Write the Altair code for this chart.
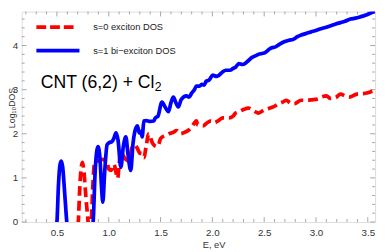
import altair as alt
import pandas as pd

# ---- data ----
E_exciton = [0.68, 0.706, 0.72, 0.735, 0.747, 0.76, 0.78, 0.801, 0.815, 0.832, 0.848, 0.864, 0.88, 0.90,
             0.92, 0.943, 0.97, 0.985, 1.00, 1.022, 1.05, 1.086, 1.10, 1.117, 1.14, 1.165, 1.19, 1.228,
             1.25, 1.276, 1.30, 1.32, 1.339, 1.36, 1.386, 1.42, 1.434, 1.465, 1.481, 1.50, 1.544, 1.58,
             1.62, 1.655, 1.69, 1.73, 1.78, 1.829, 1.845, 1.86, 1.908, 1.95, 1.987, 2.02, 2.06, 2.10,
             2.129, 2.16, 2.20, 2.224, 2.256, 2.30, 2.35, 2.40, 2.445, 2.50, 2.55, 2.588, 2.64, 2.68,
             2.715, 2.75, 2.79, 2.857, 2.92, 2.96, 3.015, 3.06, 3.10, 3.14, 3.19, 3.237, 3.28, 3.32,
             3.394, 3.45, 3.50, 3.553, 3.60]
DOS_exciton = [-0.4, 0.0, 0.75, 1.25, 1.35, 1.15, 0.55, 0.0, -0.4, 0.0, 0.9, 1.35, 1.38, 1.385,
               1.40, 1.42, 1.38, 1.35, 1.20, 1.17, 1.31, 0.99, 1.30, 1.60, 1.50, 1.42, 1.385, 1.71,
               1.75, 1.67, 1.56, 1.55, 1.46, 1.70, 2.00, 1.80, 1.75, 1.71, 1.75, 1.89, 1.96, 2.00,
               2.03, 2.07, 2.00, 2.03, 2.10, 2.25, 2.29, 2.20, 2.18, 2.25, 2.29, 2.25, 2.30, 2.36,
               2.36, 2.36, 2.40, 2.47, 2.50, 2.55, 2.58, 2.52, 2.47, 2.54, 2.58, 2.61, 2.68, 2.72,
               2.76, 2.70, 2.68, 2.76, 2.76, 2.77, 2.79, 2.84, 2.86, 2.80, 2.82, 2.90, 2.86, 2.83,
               2.90, 2.91, 2.93, 2.97, 2.98]

E_biexciton = [0.47, 0.50, 0.515, 0.53, 0.542, 0.555, 0.575, 0.595, 0.62, 0.82, 0.849, 0.87, 0.896,
               0.915, 0.93, 0.943, 0.96, 0.984, 1.005, 1.03, 1.05, 1.07, 1.09, 1.117, 1.14, 1.165,
               1.185, 1.212, 1.235, 1.25, 1.276, 1.295, 1.31, 1.323, 1.339, 1.36, 1.40, 1.434, 1.45,
               1.475, 1.513, 1.545, 1.576, 1.60, 1.624, 1.645, 1.671, 1.70, 1.75, 1.775, 1.80, 1.829,
               1.845, 1.876, 1.90, 1.92, 1.94, 1.97, 2.003, 2.04, 2.06, 2.098, 2.129, 2.17, 2.20,
               2.224, 2.256, 2.29, 2.33, 2.383, 2.42, 2.445, 2.48, 2.509, 2.54, 2.572, 2.61, 2.65,
               2.699, 2.74, 2.78, 2.82, 2.857, 2.90, 2.952, 3.00, 3.047, 3.09, 3.142, 3.19, 3.237,
               3.28, 3.332, 3.38, 3.426, 3.49, 3.553, 3.60]
DOS_biexciton = [-0.4, 0.0, 0.85, 1.30, 1.38, 1.25, 0.65, 0.0, -0.4, -0.4, 0.0, 1.2, 1.71,
                 1.45, 0.8, 0.45, 1.1, 1.75, 1.80, 1.82, 1.90, 2.02, 1.85, 1.24, 1.70, 1.93,
                 1.55, 1.17, 1.80, 2.03, 2.18, 2.02, 2.05, 1.93, 2.29, 2.30, 2.28, 2.29, 2.36,
                 2.40, 2.72, 2.60, 2.50, 2.70, 2.83, 2.72, 2.61, 2.78, 2.86, 2.83, 2.92, 3.01,
                 3.08, 3.08, 3.12, 3.10, 3.19, 3.22, 3.33, 3.30, 3.32, 3.40, 3.44, 3.44, 3.48,
                 3.51, 3.59, 3.57, 3.62, 3.73, 3.77, 3.80, 3.82, 3.84, 3.90, 3.95, 3.97, 4.03,
                 4.09, 4.12, 4.14, 4.20, 4.24, 4.27, 4.31, 4.34, 4.38, 4.41, 4.45, 4.49, 4.52,
                 4.55, 4.60, 4.62, 4.65, 4.70, 4.76, 4.79]

x_major = [0.5, 1.0, 1.5, 2.0, 2.5, 3.0, 3.5]
x_minor = [0.2, 0.3, 0.4, 0.6, 0.7, 0.8, 0.9, 1.1, 1.2, 1.3, 1.4, 1.6, 1.7, 1.8, 1.9,
           2.1, 2.2, 2.3, 2.4, 2.6, 2.7, 2.8, 2.9, 3.1, 3.2, 3.3, 3.4]
y_major = [0, 1, 2, 3, 4]
y_minor = [0.2, 0.4, 0.6, 0.8, 1.2, 1.4, 1.6, 1.8, 2.2, 2.4, 2.6, 2.8, 3.2, 3.4, 3.6, 3.8,
           4.2, 4.4, 4.6]

legend_labels = ["s=0 exciton DOS", "s=1 bi\u2212exciton DOS"]
annotation = ["CNT (6,2) + Cl", "2"]

# ---- layout ----
W, H = 361, 215
FRAME = "#a6a6a6"
FONT = "Liberation Sans"

xs = alt.Scale(domain=[0.16, 3.57], nice=False, zero=False)
ys = alt.Scale(domain=[0, 4.77], nice=False, zero=False)

x_axis = alt.Axis(values=x_major, format=".1f", ticks=False, domain=False, grid=False,
                  labelFont=FONT, labelFontSize=10, labelColor="#333", labelPadding=6,
                  title="E, eV", titleFont=FONT, titleFontSize=9.5, titleFontWeight="normal",
                  titleColor="#333", titleX=196, titleY=23, titleBaseline="middle",
                  titleAlign="center", titleAnchor="start")
y_axis = alt.Axis(values=y_major, format="d", ticks=False, domain=False, grid=False,
                  labelFont=FONT, labelFontSize=10, labelColor="#333", labelPadding=4,
                  title="Log\u2081\u2080DOS", titleFont=FONT, titleFontSize=9,
                  titleFontWeight="normal", titleColor="#333", titleX=-14, titleY=98,
                  titleBaseline="top", titleAlign="center", titleAnchor="start", titleAngle=270)

X = alt.X("E:Q", scale=xs, axis=x_axis)
Y = alt.Y("v:Q", scale=ys, axis=y_axis)

df_exc = pd.DataFrame({"E": E_exciton, "v": DOS_exciton})
df_bi = pd.DataFrame({"E": E_biexciton, "v": DOS_biexciton})

red = alt.Chart(df_exc).mark_line(color="#ff0000", strokeWidth=3.8, strokeDash=[10, 5],
                                  clip=True, strokeCap="butt", interpolate="monotone").encode(x=X, y=Y)
blue = alt.Chart(df_bi).mark_line(color="#0000ff", strokeWidth=3.8, clip=True,
                                  interpolate="monotone").encode(x=X, y=Y)

def xticks(vals, length):
    d = pd.DataFrame({"E": vals})
    b = alt.Chart(d).mark_rule(color=FRAME, strokeWidth=1).encode(
        x=X, y=alt.value(H), y2=alt.value(H - length))
    t = alt.Chart(d).mark_rule(color=FRAME, strokeWidth=1).encode(
        x=X, y=alt.value(0), y2=alt.value(length))
    return [b, t]

def yticks(vals, length):
    d = pd.DataFrame({"v": vals})
    l = alt.Chart(d).mark_rule(color=FRAME, strokeWidth=1).encode(
        y=Y, x=alt.value(0), x2=alt.value(length))
    r = alt.Chart(d).mark_rule(color=FRAME, strokeWidth=1).encode(
        y=Y, x=alt.value(W), x2=alt.value(W - length))
    return [l, r]

ticks = xticks(x_major, 5) + xticks(x_minor, 3) + yticks(y_major, 5) + yticks(y_minor, 3)

leg_df = pd.DataFrame({"label": legend_labels})
leg_red = alt.Chart(leg_df.iloc[[0]]).mark_rule(color="#ff0000", strokeWidth=3.8,
                                                strokeDash=[10, 4], strokeCap="butt").encode(
    x=alt.value(15), x2=alt.value(54), y=alt.value(16))
leg_blue = alt.Chart(leg_df.iloc[[1]]).mark_rule(color="#0000ff", strokeWidth=3.8).encode(
    x=alt.value(15), x2=alt.value(59), y=alt.value(40))
leg_t1 = alt.Chart(leg_df.iloc[[0]]).mark_text(align="left", baseline="middle", font=FONT,
                                                fontSize=9.5, color="#222").encode(
    x=alt.value(73), y=alt.value(16), text="label:N")
leg_t2 = alt.Chart(leg_df.iloc[[1]]).mark_text(align="left", baseline="middle", font=FONT,
                                                fontSize=9.5, color="#222").encode(
    x=alt.value(73), y=alt.value(40), text="label:N")

ann_df = pd.DataFrame({"t": annotation})
ann_main = alt.Chart(ann_df.iloc[[0]]).mark_text(align="left", baseline="alphabetic", font=FONT,
                                                 fontSize=18, color="#000").encode(
    x=alt.value(19.5), y=alt.value(78), text="t:N")
ann_sub = alt.Chart(ann_df.iloc[[1]]).mark_text(align="left", baseline="alphabetic", font=FONT,
                                                fontSize=12.5, color="#000").encode(
    x=alt.value(136), y=alt.value(81), text="t:N")

chart = alt.layer(
    *ticks, red, blue, leg_red, leg_blue, leg_t1, leg_t2, ann_main, ann_sub
).properties(
    width=W, height=H,
    autosize=alt.AutoSizeParams(type="none"),
    padding={"left": 14, "top": 1, "right": 3, "bottom": 28},
).configure_view(stroke=FRAME, strokeWidth=1).configure(background="white")

chart.save("out.html", embed_options={"renderer": "svg", "actions": False})
